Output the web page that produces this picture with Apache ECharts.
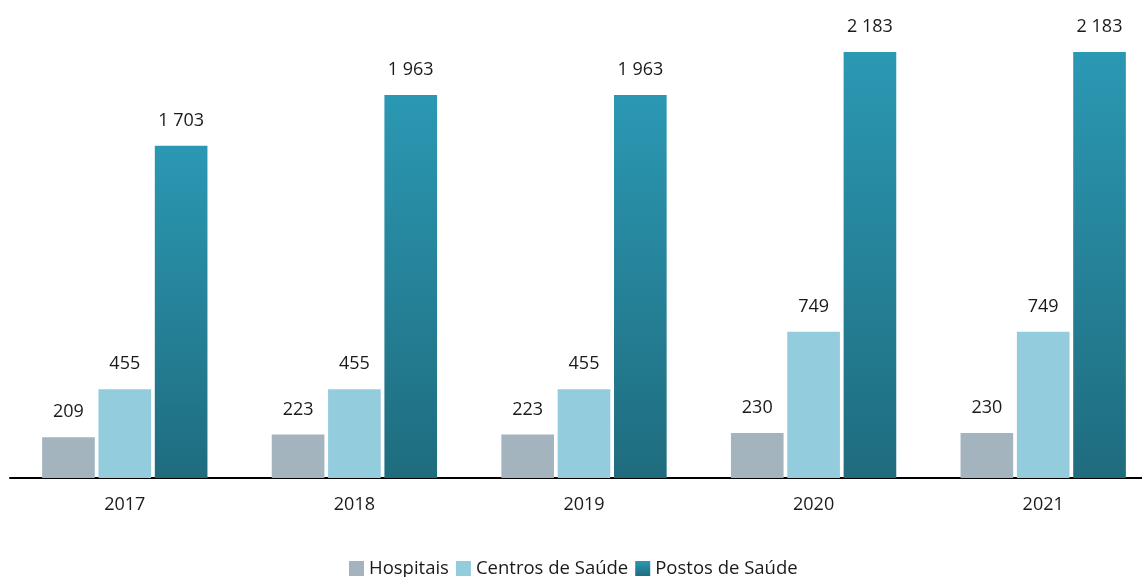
<!DOCTYPE html>
<html><head><meta charset="utf-8">
<script src="https://cdn.jsdelivr.net/npm/echarts@6/dist/echarts.min.js"></script>
<style>html,body{margin:0;padding:0;background:#fff;overflow:hidden}#c{width:1158px;height:577px}</style>
</head><body><div id="c"></div>
<script>
const categories = ['2017','2018','2019','2020','2021'];
const hospitais = [209, 223, 223, 230, 230];
const centros = [455, 455, 455, 749, 749];
const postos = [1703, 1963, 1963, 2183, 2183];
const seriesNames = ['Hospitais','Centros de Saúde','Postos de Saúde'];

const fmt = v => String(v).replace(/\B(?=(\d{3})+(?!\d))/g, ' ');
const font = "'Open Sans', 'Liberation Sans', sans-serif";
const label = {show:true, position:'top', distance:16, color:'#1a1a1a', fontSize:18, fontFamily:font, formatter:p=>fmt(p.value)};
const chart = echarts.init(document.getElementById('c'));
chart.setOption({
  animation:false,
  grid:{left:10, top:9.7, right:0, height:468.3, containLabel:false},
  legend:{bottom:-6, left:344, itemWidth:15, itemHeight:15, itemGap:7, icon:'rect',
    textStyle:{fontSize:18.5, color:'#1a1a1a', fontFamily:font}, data:seriesNames},
  xAxis:{type:'category', data:categories,
    axisLine:{lineStyle:{color:'#000', width:2}}, axisTick:{show:false},
    axisLabel:{fontSize:18, color:'#1a1a1a', fontFamily:font, margin:18}},
  yAxis:{type:'value', min:0, max:2400, show:false, splitLine:{show:false}},
  series:[
    {name:seriesNames[0], type:'bar', data:hospitais, barCategoryGap:'28%', barGap:'7%',
      itemStyle:{color:'#a4b4bf'}, label},
    {name:seriesNames[1], type:'bar', data:centros,
      itemStyle:{color:'#93ccdd'}, label},
    {name:seriesNames[2], type:'bar', data:postos,
      itemStyle:{color:new echarts.graphic.LinearGradient(0,0,0,1,[{offset:0,color:'#2b98b3'},{offset:1,color:'#1f6c7e'}])}, label}
  ]
});
</script></body></html>
